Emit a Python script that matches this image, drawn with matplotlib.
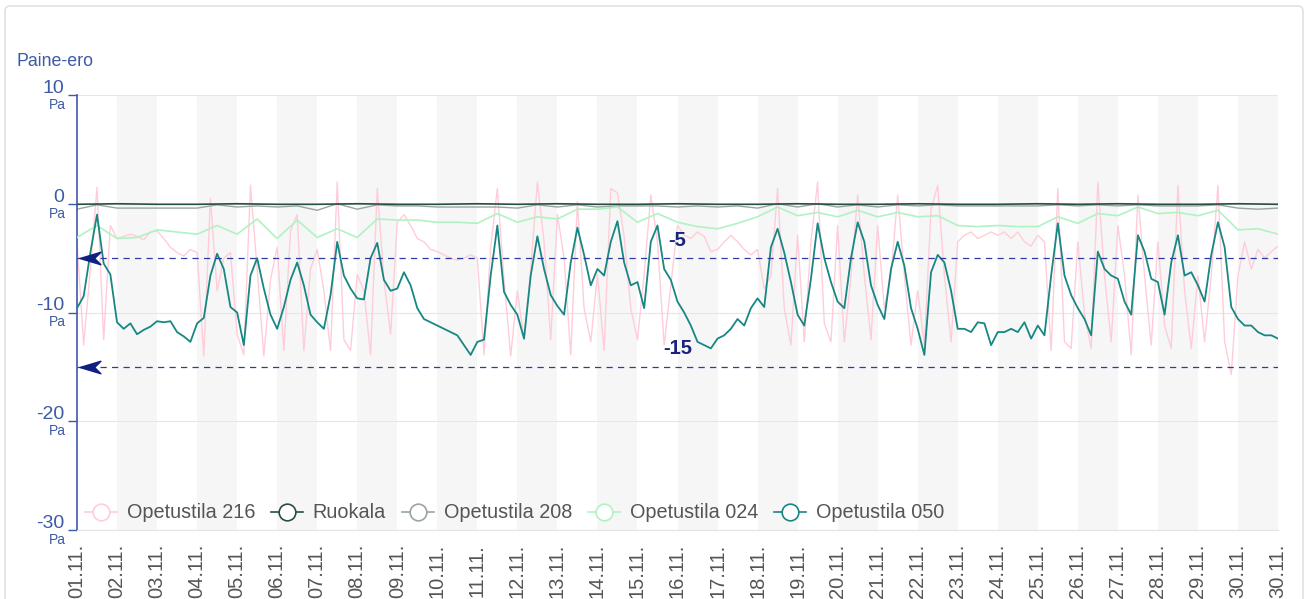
#!/usr/bin/env python3
"""Paine-ero marraskuu: viiden tilan paine-erot"""

import matplotlib
matplotlib.use("Agg")
import matplotlib.pyplot as plt
import numpy as np
from matplotlib.lines import Line2D
from matplotlib.path import Path
from matplotlib.patches import FancyBboxPatch
from matplotlib.transforms import IdentityTransform

plt.rcParams["font.family"] = ["Liberation Sans", "DejaVu Sans"]

# x-akselin päivämäärät (päivän alku, viimeinen = jakson loppu)
day_labels = [f"{d:02d}.11." for d in range(1, 31)] + ["30.11."]

# Opetustila 050, 4 h välein (6 arvoa / päivä + loppupiste)
op050 = [
    -9.6, -8.5, -4.5, -1.0, -5.5, -6.5,
    -10.9, -11.5, -11.0, -12.0, -11.6, -11.3,
    -10.8, -10.9, -10.8, -11.8, -12.2, -12.7,
    -11.0, -10.5, -6.6, -4.6, -6.0, -9.5,
    -10.0, -13.0, -6.6, -5.0, -7.8, -10.2,
    -11.5, -9.5, -7.0, -5.4, -7.5, -10.2,
    -10.9, -11.5, -8.4, -3.5, -6.6, -7.8,
    -8.7, -8.8, -5.0, -3.6, -7.0, -8.0,
    -7.8, -6.3, -7.5, -9.6, -10.6, -10.9,
    -11.2, -11.5, -11.8, -12.1, -13.0, -13.9,
    -12.7, -12.5, -6.6, -2.0, -8.1, -9.3,
    -10.2, -12.4, -6.6, -3.0, -6.0, -8.4,
    -9.4, -10.2, -5.4, -2.2, -4.7, -7.5,
    -6.0, -6.6, -3.5, -1.6, -5.4, -7.5,
    -7.2, -9.6, -3.5, -2.0, -6.0, -7.0,
    -9.0, -10.0, -11.2, -12.7, -13.0, -13.3,
    -12.4, -12.1, -11.5, -10.6, -11.2, -9.6,
    -8.7, -9.5, -4.0, -2.3, -4.5, -7.2,
    -10.2, -11.2, -6.9, -1.8, -5.0, -7.2,
    -9.0, -9.6, -5.0, -1.7, -3.5, -7.5,
    -9.3, -10.6, -6.0, -3.5, -5.7, -9.6,
    -11.5, -13.9, -6.3, -4.7, -5.4, -8.0,
    -11.5, -11.5, -11.8, -10.9, -11.0, -13.0,
    -11.8, -11.8, -11.5, -11.8, -10.9, -12.4,
    -11.2, -12.1, -6.6, -1.8, -6.6, -8.4,
    -9.6, -10.6, -12.1, -4.4, -6.0, -6.6,
    -6.9, -9.0, -10.2, -2.9, -4.4, -6.9,
    -7.2, -10.2, -5.4, -2.9, -6.6, -6.3,
    -7.5, -9.0, -4.7, -1.7, -4.0, -9.5,
    -10.6, -11.2, -11.2, -11.8, -12.1, -12.1,
    -12.4,
]

# Opetustila 216, 4 h välein
op216 = [
    -3.5, -13.0, -6.0, 1.5, -12.5, -2.0,
    -3.2, -3.0, -2.8, -3.0, -3.3, -2.6,
    -2.5, -3.2, -4.0, -4.5, -4.8, -4.2,
    -4.5, -14.0, 0.5, -8.0, -5.0, -4.5,
    -12.0, -13.9, 1.7, -6.0, -14.0, -7.0,
    -4.0, -13.5, -2.5, -1.0, -13.5, -6.0,
    -4.2, -8.0, -13.5, 2.0, -12.5, -13.5,
    -6.5, -8.0, -13.9, 1.4, -7.0, -12.0,
    -1.7, -1.0, -2.0, -3.2, -3.5, -4.2,
    -4.4, -4.7, -5.0, -5.2, -5.0, -4.7,
    -5.0, -13.9, -4.0, 1.4, -7.0, -14.0,
    -8.0, -12.5, -6.0, 2.0, -3.5, -12.5,
    -1.0, -5.0, -13.9, 0.2, -9.6, -12.7,
    -6.5, -13.5, 1.4, 1.0, -3.0, -9.6,
    -12.5, -6.5, 0.8, -3.5, -13.0, -7.5,
    -2.0, -2.9, -3.2, -2.6, -3.0, -4.4,
    -4.2, -3.5, -2.9, -3.5, -4.2, -4.7,
    -4.2, -7.8, -6.6, 1.4, -9.6, -13.0,
    -2.9, -12.7, -3.5, 2.0, -11.0, -12.7,
    -2.0, -12.7, -6.6, 0.8, -6.6, -12.5,
    -2.0, -9.6, -6.6, 0.8, -6.6, -13.0,
    -8.0, -13.0, -0.5, 1.7, -6.6, -12.7,
    -3.5, -2.9, -2.6, -3.2, -2.9, -2.6,
    -2.9, -2.6, -3.2, -2.6, -3.5, -3.9,
    -2.9, -3.5, -13.5, 1.4, -12.7, -13.3,
    -3.5, -10.2, -13.3, 2.0, -6.6, -12.7,
    -2.0, -6.6, -13.9, 0.8, -6.6, -13.0,
    -3.5, -11.2, -13.3, 1.7, -8.0, -13.3,
    -6.6, -12.7, -6.6, 1.7, -12.7, -15.7,
    -6.6, -3.5, -6.0, -4.2, -5.0, -4.4,
    -3.9,
]

# Opetustila 024, 12 h välein
op024 = [
    -3.1, -2.0, -3.2, -3.1, -2.4, -2.6, -2.8, -2.0, -2.8, -1.4,
    -3.2, -1.5, -3.1, -2.3, -3.1, -1.4, -1.5, -1.5, -1.7, -1.7,
    -1.8, -0.9, -1.7, -1.2, -1.4, -0.5, -0.5, -0.3, -1.7, -0.9,
    -1.7, -2.1, -2.3, -1.8, -1.2, -0.3, -1.1, -0.8, -1.2, -0.6,
    -1.2, -0.8, -1.2, -1.1, -2.0, -2.1, -2.0, -2.1, -2.1, -1.2,
    -1.8, -0.9, -1.1, -0.3, -0.9, -0.8, -1.1, -0.6, -2.4, -2.3,
    -2.8,
]

# Opetustila 208, 12 h välein
op208 = [
    -0.5, -0.1, -0.4, -0.4, -0.4, -0.4, -0.4, -0.1, -0.3, -0.2,
    -0.3, -0.2, -0.6, 0.0, -0.5, -0.1, -0.2, -0.2, -0.3, -0.3,
    -0.3, -0.3, -0.4, -0.1, -0.3, -0.1, -0.3, -0.2, -0.2, -0.2,
    -0.3, -0.2, -0.3, -0.2, -0.4, 0.0, -0.3, 0.0, -0.3, -0.1,
    -0.3, -0.1, -0.2, -0.1, -0.2, -0.2, -0.2, -0.2, -0.2, -0.1,
    -0.2, -0.1, -0.2, -0.1, -0.2, -0.2, -0.2, -0.1, -0.4, -0.5,
    -0.4,
]

# Ruokala, vuorokausiarvot
ruokala = [
    -0.05, 0.0, -0.05, -0.05, 0.0, -0.05, -0.05, 0.0, -0.05, -0.05,
    0.0, -0.05, 0.0, -0.05, -0.05, 0.0, -0.05, -0.05, 0.0, -0.05,
    -0.05, 0.0, -0.05, -0.05, 0.0, -0.05, 0.0, -0.05, -0.05, 0.0,
    -0.05,
]

limits = [-5, -15]
y_ticks = [10, 0, -10, -20, -30]

C_216 = "#ffcdd9"
C_RUO = "#264f45"
C_208 = "#9aa59f"
C_024 = "#b0f3c2"
C_050 = "#168782"
C_AX = "#3d5aa6"
C_LIM = "#2e3b9f"


def xs(vals, per_day):
    return np.arange(len(vals)) / per_day


def main():
    fig = plt.figure(figsize=(13.08, 5.99), dpi=100)
    ax = fig.add_axes([77 / 1308, 1 - 530 / 599, 1201 / 1308, 435 / 599])

    # kehys koko kuvan ympärille
    fig.patches.append(FancyBboxPatch(
        (5, -20), 1298, 613, boxstyle="round,pad=0,rounding_size=5",
        transform=IdentityTransform(), fc="none", ec="#dcdcdc", lw=1))

    for d in range(1, 30, 2):
        ax.axvspan(d, d + 1, color="#f6f6f6", lw=0, zorder=0)
    for v in y_ticks:
        ax.axhline(v, color="#e6e6e6", lw=0.8, zorder=0.5)

    ax.plot(xs(op216, 6), op216, color=C_216, lw=1.0, zorder=2)
    ax.plot(xs(ruokala, 1), ruokala, color=C_RUO, lw=1.2, zorder=3)
    ax.plot(xs(op208, 2), op208, color=C_208, lw=1.0, zorder=2.5)
    ax.plot(xs(op024, 2), op024, color=C_024, lw=1.2, zorder=2.6)
    ax.plot(xs(op050, 6), op050, color=C_050, lw=1.3, zorder=4)

    # raja-arvot
    arrow = Path([(-1, 0), (1, 0.6), (0.4, 0), (1, -0.6), (-1, 0)],
                 [Path.MOVETO, Path.LINETO, Path.LINETO, Path.LINETO, Path.CLOSEPOLY])
    for lim in limits:
        ax.axhline(lim, color=C_LIM, lw=0.9, dashes=(5.0, 4.2), zorder=5)
        ax.plot([0.33], [lim], marker=arrow, markersize=15, color="#0f1f82",
                mec="#0f1f82", clip_on=False, zorder=6)
        ax.text(15.0, lim + 1.65, str(lim), ha="center", va="center",
                fontsize=14.5, fontweight="bold", color="#1a237e", zorder=6)

    ax.set_xlim(0, 30)
    ax.set_ylim(-30, 10)
    ax.set_xticks(range(31))
    ax.set_xticklabels(day_labels, rotation=90, fontsize=14.5, color="#555555")
    ax.tick_params(axis="x", length=0, pad=10)
    ax.set_yticks(y_ticks)
    ax.set_yticklabels([])
    ax.tick_params(axis="y", length=6.5, width=1, color=C_AX, direction="out")

    for v in y_ticks:
        ax.annotate(str(v), xy=(0, v), xycoords=("axes fraction", "data"),
                    xytext=(-13, 2), textcoords="offset pixels",
                    ha="right", va="baseline", fontsize=14, color=C_AX)
        ax.annotate("Pa", xy=(0, v), xycoords=("axes fraction", "data"),
                    xytext=(-11, -3), textcoords="offset pixels",
                    ha="right", va="top", fontsize=10, color=C_AX)

    for side in ("top", "right"):
        ax.spines[side].set_visible(False)
    ax.spines["left"].set_color(C_AX)
    ax.spines["left"].set_linewidth(1.2)
    ax.spines["bottom"].set_color("#e3e3e3")

    fig.text(17 / 1308, 1 - 62 / 599, "Paine-ero", fontsize=12.8, color=C_AX,
             ha="left", va="center")

    names = ["Opetustila 216", "Ruokala", "Opetustila 208", "Opetustila 024", "Opetustila 050"]
    cols = [C_216, C_RUO, C_208, C_024, C_050]
    handles = [Line2D([], [], color=c, lw=1.2, marker="o", markersize=12,
                      mfc="white", mec=c, mew=1.2) for c in cols]
    leg = ax.legend(handles, names, loc="center left", bbox_to_anchor=(8 / 1201, 17 / 435),
                    ncol=5, frameon=False, fontsize=14.3, handlelength=1.6,
                    handletextpad=0.5, columnspacing=0.8, borderpad=0, borderaxespad=0)
    for t in leg.get_texts():
        t.set_color("#555555")
    leg.set_zorder(7)

    fig.savefig("out.png", dpi=100)
    plt.close(fig)


if __name__ == "__main__":
    main()
